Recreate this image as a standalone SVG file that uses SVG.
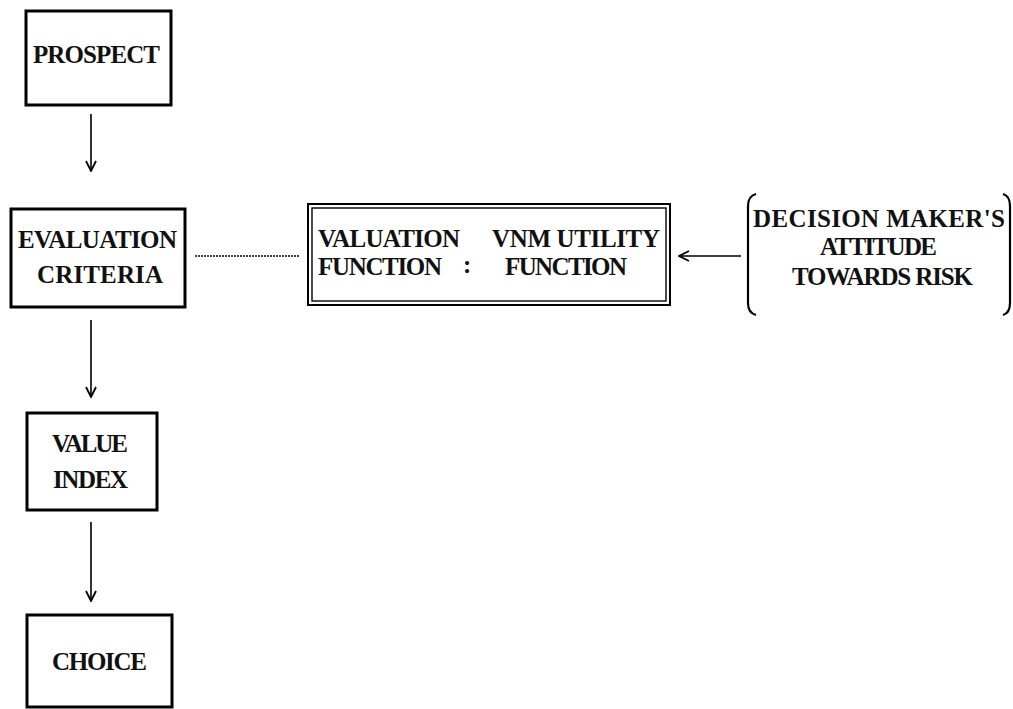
<svg xmlns="http://www.w3.org/2000/svg" width="1013" height="709" viewBox="0 0 1013 709">
<style>
.box{fill:none;stroke:#000;stroke-width:3}
.t{font-family:"Liberation Serif","DejaVu Serif",serif;font-size:25px;font-weight:bold;fill:#111}
.ln{fill:none;stroke:#000;stroke-width:1.6}
.dot{fill:none;stroke:#000;stroke-width:1.6;stroke-dasharray:2 1}
</style>
<defs>
<marker id="ah" viewBox="0 0 12 12" refX="11" refY="6" markerWidth="12" markerHeight="12" markerUnits="userSpaceOnUse" orient="auto">
<path d="M1,1 L11,6 L1,11" fill="none" stroke="#000" stroke-width="1.8"/>
</marker>
</defs>
<rect width="1013" height="709" fill="#fff"/>
<g id="connectors">
<line class="ln" x1="91" y1="114" x2="91" y2="171" marker-end="url(#ah)"/>
<line class="ln" x1="91" y1="320" x2="91" y2="397" marker-end="url(#ah)"/>
<line class="ln" x1="91" y1="522" x2="91" y2="601" marker-end="url(#ah)"/>
<line class="dot" x1="195" y1="256" x2="300" y2="256"/>
<line class="ln" x1="741" y1="256" x2="679" y2="256" marker-end="url(#ah)"/>
</g>
<g id="prospect">
<rect class="box" x="26" y="11" width="145" height="94"/>
<text class="t" x="33" y="63" textLength="127" lengthAdjust="spacing">PROSPECT</text>
</g>
<g id="evaluation">
<rect class="box" x="11" y="209" width="174" height="98"/>
<text class="t" x="18" y="248" textLength="159" lengthAdjust="spacing">EVALUATION</text>
<text class="t" x="37" y="283" textLength="126" lengthAdjust="spacing">CRITERIA</text>
</g>
<g id="valuation">
<rect fill="none" stroke="#000" stroke-width="2" x="308" y="204" width="362" height="101"/>
<rect fill="none" stroke="#000" stroke-width="1.4" x="312" y="208" width="354" height="93"/>
<text class="t" x="318" y="247" textLength="142" lengthAdjust="spacing">VALUATION</text>
<text class="t" x="318" y="275" textLength="124" lengthAdjust="spacing">FUNCTION</text>
<text class="t" x="463" y="273">:</text>
<text class="t" x="492" y="247" textLength="168" lengthAdjust="spacing">VNM UTILITY</text>
<text class="t" x="505" y="275" textLength="122" lengthAdjust="spacing">FUNCTION</text>
</g>
<g id="attitude">
<path d="M756,194 Q748,196 748,206 L748,303 Q748,313 756,315" fill="none" stroke="#000" stroke-width="2.2"/>
<path d="M1003,194 Q1010,196 1010,206 L1010,303 Q1010,313 1003,315" fill="none" stroke="#000" stroke-width="2.2"/>
<text class="t" x="753" y="227" textLength="252" lengthAdjust="spacing">DECISION MAKER'S</text>
<text class="t" x="820" y="255" textLength="117" lengthAdjust="spacing">ATTITUDE</text>
<text class="t" x="792" y="285" textLength="181" lengthAdjust="spacing">TOWARDS RISK</text>
</g>
<g id="value-index">
<rect class="box" x="27" y="413" width="130" height="97"/>
<text class="t" x="52" y="452" textLength="76" lengthAdjust="spacing">VALUE</text>
<text class="t" x="53" y="488" textLength="75" lengthAdjust="spacing">INDEX</text>
</g>
<g id="choice">
<rect class="box" x="27" y="615" width="145" height="92"/>
<text class="t" x="52" y="670" textLength="95" lengthAdjust="spacing">CHOICE</text>
</g>
</svg>
